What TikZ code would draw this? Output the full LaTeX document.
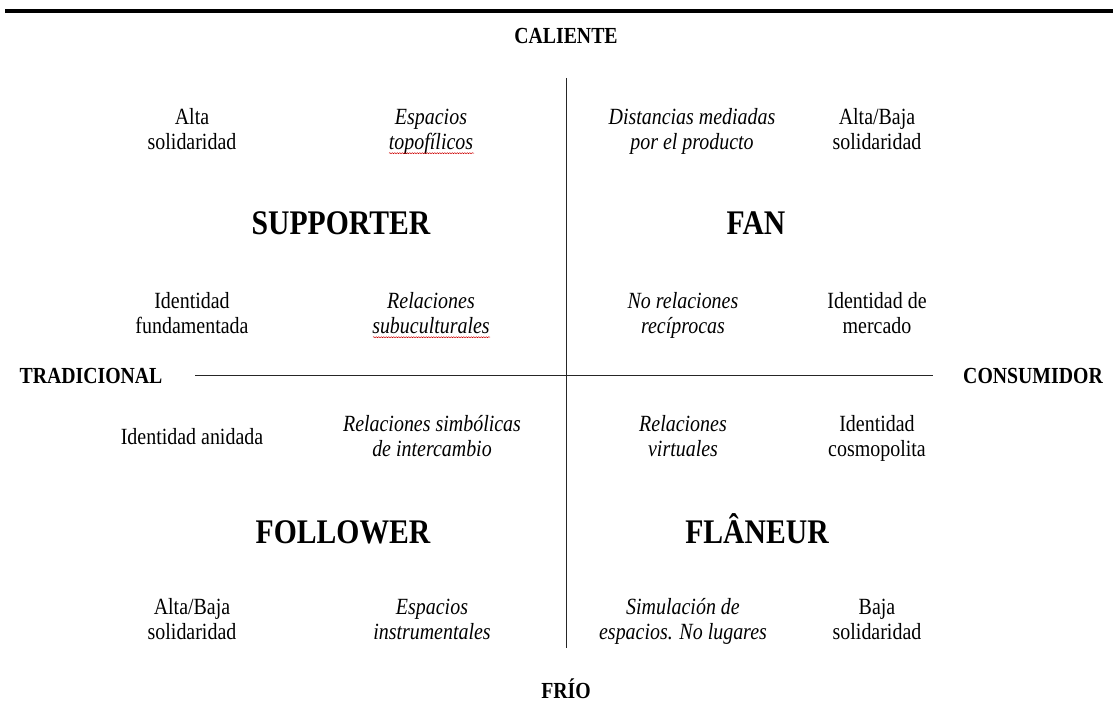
\documentclass[tikz,border=0pt]{standalone}
\usepackage{fontspec}
\setmainfont[FakeStretch=0.86]{Liberation Serif}
\usetikzlibrary{decorations.pathmorphing}
\begin{document}
\begin{tikzpicture}[x=1pt,y=-1pt,
  txt/.style={inner sep=0pt,align=center,font=\fontsize{23.2}{25}\selectfont},
  itx/.style={txt,font=\fontsize{23.2}{25}\selectfont\itshape},
  ttl/.style={inner sep=0pt,anchor=base,font=\fontsize{34.5}{40}\selectfont\bfseries},
  axl/.style={inner sep=0pt,anchor=base,font=\fontsize{23}{26}\selectfont\bfseries},
  axis/.style={line width=1pt,black!85},
  squig/.style={red!80!black,line width=0.5pt,decorate,decoration={snake,amplitude=0.5pt,segment length=2.5pt}}]
\useasboundingbox (0,0) rectangle (1113,711);
% top rule
\coordinate (r1) at (5,11);
\coordinate (r2) at (1113,11);
\draw[line width=3.5pt] (r1) -- (r2);
% axis labels
\node[axl] (cal) at (566,44) {CALIENTE};
\node[axl] (fri) at (566,698) {FRÍO};
\node[axl] (tra) at (91,383) {TRADICIONAL};
\node[axl] (con) at (1033,383) {CONSUMIDOR};
% axes
\coordinate (vt) at (566,78);
\coordinate (vb) at (566,648);
\coordinate (hl) at (195,375);
\coordinate (hr) at (933,375);
\draw[axis] (vt) -- (vb);
\draw[axis] (hl) -- (hr);
% titles
\node[ttl] (sup) at (341,235) {SUPPORTER};
\node[ttl] (fan) at (756,235) {FAN};
\node[ttl] (fol) at (343,543) {FOLLOWER};
\node[ttl] (fla) at (757,543) {FLÂNEUR};
% row 1
\node[txt] (a1) at (192,132) {\strut Alta\\\strut solidaridad};
\node[itx] (a2) at (431,132) {\strut Espacios\\\strut topofílicos};
\node[itx] (a3) at (692,132) {\strut Distancias mediadas\\\strut por el producto};
\node[txt] (a4) at (877,132) {\strut Alta/Baja\\\strut solidaridad};
% row 2
\node[txt] (b1) at (192,316) {\strut Identidad\\\strut fundamentada};
\node[itx] (b2) at (431,316) {\strut Relaciones\\\strut subuculturales};
\node[itx] (b3) at (683,316) {\strut No relaciones\\\strut recíprocas};
\node[txt] (b4) at (877,316) {\strut Identidad de\\\strut mercado};
% row 3
\node[txt,anchor=base] (c1) at (192,444) {Identidad anidada};
\node[itx] (c2) at (432,439) {\strut Relaciones simbólicas\\\strut de intercambio};
\node[itx] (c3) at (683,439) {\strut Relaciones\\\strut virtuales};
\node[txt] (c4) at (877,439) {\strut Identidad\\\strut cosmopolita};
% row 4
\node[txt] (d1) at (192,622) {\strut Alta/Baja\\\strut solidaridad};
\node[itx] (d2) at (432,622) {\strut Espacios\\\strut instrumentales};
\node[itx] (d3) at (683,622) {\strut Simulación de\\\strut espacios. No lugares};
\node[txt] (d4) at (877,622) {\strut Baja\\\strut solidaridad};
% spell-check squiggles
\draw[squig] ([xshift=-42pt,yshift=4pt]a2.south) -- ([xshift=43pt,yshift=4pt]a2.south);
\draw[squig] ([xshift=-58pt,yshift=4pt]b2.south) -- ([xshift=59pt,yshift=4pt]b2.south);
\end{tikzpicture}
\end{document}
